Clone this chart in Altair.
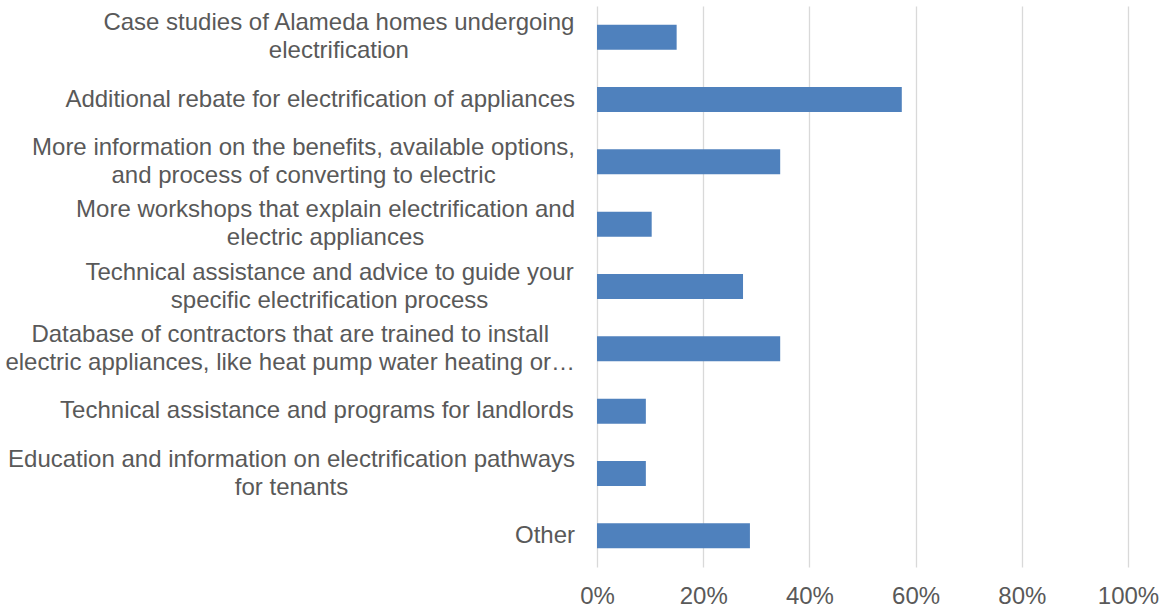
import altair as alt
import pandas as pd

# Category labels (line breaks as in the reference)
labels = [
    "Case studies of Alameda homes undergoing\nelectrification",
    "Additional rebate for electrification of appliances",
    "More information on the benefits, available options,\nand process of converting to electric",
    "More workshops that explain electrification and\nelectric appliances",
    "Technical assistance and advice to guide your\nspecific electrification process",
    "Database of contractors that are trained to install\nelectric appliances, like heat pump water heating or…",
    "Technical assistance and programs for landlords",
    "Education and information on electrification pathways\nfor tenants",
    "Other",
]

# Share of respondents
shares = [0.150, 0.574, 0.345, 0.103, 0.275, 0.345, 0.092, 0.092, 0.288]

tick_values = [0, 0.2, 0.4, 0.6, 0.8, 1.0]

# --- Arial / Liberation Sans advance widths (per 1000 em) to centre multi-line labels ---
_w = {
    " ": 278, ",": 278, ".": 278, "…": 1000, "%": 889,
    "a": 556, "b": 556, "c": 500, "d": 556, "e": 556, "f": 278, "g": 556, "h": 556,
    "i": 222, "j": 222, "k": 500, "l": 222, "m": 833, "n": 556, "o": 556, "p": 556,
    "q": 556, "r": 333, "s": 500, "t": 278, "u": 556, "v": 500, "w": 722, "x": 500,
    "y": 500, "z": 500,
    "A": 667, "B": 667, "C": 722, "D": 722, "E": 667, "F": 611, "G": 778, "H": 722,
    "I": 278, "J": 500, "K": 667, "L": 556, "M": 833, "N": 722, "O": 778, "P": 667,
    "Q": 778, "R": 722, "S": 667, "T": 611, "U": 722, "V": 667, "W": 944, "X": 667,
    "Y": 667, "Z": 611,
}
FONT_SIZE = 24
LINE_HEIGHT = 28
LABEL_GAP = 22  # px between label block and the axis


def text_width(s):
    return sum(_w.get(ch, 556) for ch in s) * FONT_SIZE / 1000.0


cats = [l.replace("\n", " ") for l in labels]
centers = [-(LABEL_GAP + max(text_width(line) for line in l.split("\n")) / 2) for l in labels]
nlines = [len(l.split("\n")) for l in labels]

df = pd.DataFrame(
    {"cat": cats, "label": labels, "share": shares, "cx": centers, "nlines": nlines}
)

ycat = alt.Y(
    "cat:N",
    sort=cats,
    axis=None,
    scale=alt.Scale(paddingInner=0.6, paddingOuter=0.3),
)

bars = alt.Chart(df).mark_bar(color="#4F81BD").encode(
    x=alt.X(
        "share:Q",
        scale=alt.Scale(domain=[0, 1]),
        axis=alt.Axis(
            values=tick_values,
            format=".0%",
            grid=True,
            gridColor="#D9D9D9",
            gridWidth=1.3,
            domain=False,
            ticks=False,
            labelFont="Liberation Sans",
            labelFontSize=24,
            labelColor="#595959",
            labelPadding=17,
            labelFlush=False,
            labelOverlap=False,
            title=None,
        ),
    ),
    y=ycat,
)


def label_layer(n):
    return (
        alt.Chart(df)
        .transform_filter(alt.datum.nlines == n)
        .mark_text(
            align="center",
            baseline="middle",
            font="Liberation Sans",
            fontSize=FONT_SIZE,
            lineHeight=LINE_HEIGHT,
            color="#595959",
            lineBreak="\n",
            dy=-(n - 1) * LINE_HEIGHT / 2,
        )
        .encode(
            x=alt.X("cx:Q", scale=None, axis=None),
            y=ycat,
            text="label:N",
        )
    )


chart = (
    alt.layer(bars, label_layer(1), label_layer(2))
    .resolve_scale(x="independent")
    .properties(
        width=531,
        height=561,
        autosize=alt.AutoSizeParams(type="none"),
        padding={"left": 597, "top": 6, "right": 35, "bottom": 41},
        background="white",
    )
    .configure_view(stroke=None)
)

chart.save("out.html", embed_options={"renderer": "svg", "actions": False})
